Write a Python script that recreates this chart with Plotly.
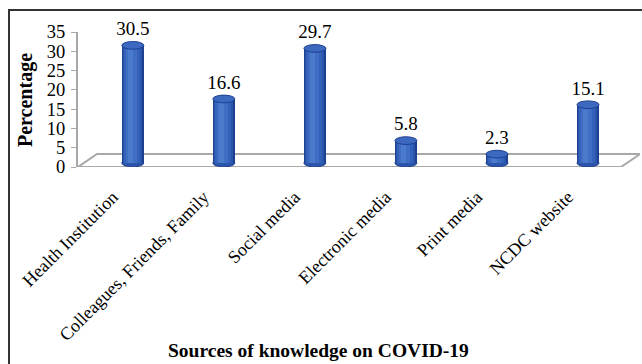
import plotly.graph_objects as go

categories = ["Health Institution", "Colleagues, Friends, Family", "Social media",
              "Electronic media", "Print media", "NCDC website"]
values = [30.5, 16.6, 29.7, 5.8, 2.3, 15.1]
value_labels = ["30.5", "16.6", "29.7", "5.8", "2.3", "15.1"]
y_ticks = [0, 5, 10, 15, 20, 25, 30, 35]

W, H = 642, 364
ML, MR, MT, MB = 78, 2, 32, 197
PW = W - ML - MR
PH = H - MT - MB
PX_X = 91.04            # px per category
PX_Y = PH / 35.0        # px per unit
r0 = -(132.8 - ML) / PX_X
r1 = r0 + PW / PX_X
shift = 4 / PX_Y        # bars stand on the middle of the floor
depth = 13 / PX_Y
skew = 19 / PX_X
label_shift = 0.22
idx = list(range(len(categories)))

fig = go.Figure()
font = "Liberation Serif, Times New Roman, serif"

shapes = []
# floor
floor = [(r0, 0), (r0 + skew, depth), (r1, depth), (r1 - skew, 0)]
path = "M {} {} L {} {} L {} {} L {} {} Z".format(*[c for p in floor for c in p])
shapes.append(dict(type="path", path=path, xref="x", yref="y", layer="below",
                   line=dict(color="#A8A8A8", width=2), fillcolor="rgba(0,0,0,0)"))

# cylinder body in layers (dark edges to light centre)
layers = [
    (0.242, 0.0, "#1E4090"),
    (0.215, -0.004, "#2A55AA"),
    (0.175, -0.010, "#3462BA"),
    (0.12, -0.018, "#3F6EC4"),
    (0.06, -0.025, "#4A7ACC"),
]
for w, off, col in layers:
    fig.add_trace(go.Bar(
        x=[i + off for i in idx], y=values, base=shift, width=w,
        marker=dict(color=col, line=dict(width=0)),
        showlegend=False, hoverinfo="skip"))

# value labels
fig.add_trace(go.Scatter(
    x=idx, y=[v + shift + 1.4 for v in values], text=value_labels, mode="text",
    textposition="top center", textfont=dict(family=font, size=19, color="black"),
    showlegend=False, hoverinfo="skip", cliponaxis=False))

# bottom and top caps
hw = 0.121
for i, v in zip(idx, values):
    shapes.append(dict(type="circle", xref="x", yref="y", layer="below",
                       x0=i - hw, x1=i + hw, y0=shift - 1.0, y1=shift + 1.0,
                       fillcolor="#2A55AA", line=dict(color="#1E4090", width=1)))
    shapes.append(dict(type="circle", xref="x", yref="y", layer="above",
                       x0=i - hw, x1=i + hw, y0=v + shift - 1.0, y1=v + shift + 1.0,
                       fillcolor="#3C68C0", line=dict(color="#1E4090", width=1)))
# outer frame
shapes.append(dict(type="rect", xref="paper", yref="paper",
                   x0=(9 - ML) / PW, x1=1.2, y0=-1.6, y1=(MT + PH - 10) / PH,
                   line=dict(color="#333333", width=2), fillcolor="rgba(0,0,0,0)"))

fig.update_layout(
    width=W, height=H, margin=dict(l=ML, r=MR, t=MT, b=MB),
    paper_bgcolor="white", plot_bgcolor="rgba(0,0,0,0)", barmode="overlay", bargap=0,
    font=dict(family=font, color="black"),
    xaxis=dict(range=[r0, r1], showgrid=False, zeroline=False, showline=False,
               tickmode="array", tickvals=[i - label_shift for i in idx], ticktext=categories,
               tickangle=-45, tickfont=dict(family=font, size=18, color="black"), ticks="",
               ticklabelstandoff=15),
    yaxis=dict(range=[0, 35], tickvals=y_ticks, showgrid=False, zeroline=False,
               showline=True, linecolor="#A8A8A8", linewidth=2, ticks="outside",
               ticklen=5, tickcolor="#A8A8A8", ticklabelstandoff=2,
               tickfont=dict(family=font, size=18.5, color="black")),
    shapes=shapes,
    annotations=[
        dict(text="<b>Sources of knowledge on COVID-19</b>", xref="paper", yref="paper",
             x=(318 - ML) / PW, y=(MT + PH - 350) / PH, showarrow=False,
             xanchor="center", yanchor="middle",
             font=dict(family=font, size=19.5, color="black")),
        dict(text="<b>Percentage</b>", xref="paper", yref="paper", textangle=-90,
             x=(25 - ML) / PW, y=(MT + PH - 100) / PH, showarrow=False,
             xanchor="center", yanchor="middle",
             font=dict(family=font, size=20, color="black")),
    ],
)
fig.write_html("out.html")
